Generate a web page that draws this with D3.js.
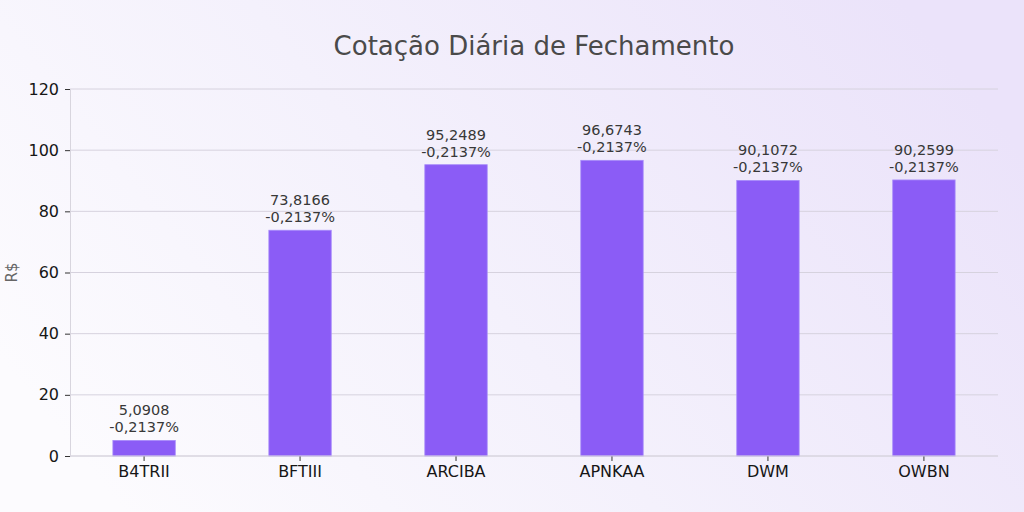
<!DOCTYPE html>
<html>
<head>
<meta charset="utf-8">
<script src="https://cdn.jsdelivr.net/npm/d3@7"></script>
<style>
  html, body { margin: 0; padding: 0; }
  svg { display: block; font-family: "DejaVu Sans", sans-serif; }
</style>
</head>
<body>
<svg id="chart" width="1024" height="512"></svg>
<script>
const tickers = ['B4TRII', 'BFTIII', 'ARCIBA', 'APNKAA', 'DWM', 'OWBN'];
const prices = [5.0908, 73.8166, 95.2489, 96.6743, 90.1072, 90.2599];
const changes = [-0.2137, -0.2137, -0.2137, -0.2137, -0.2137, -0.2137];
const yTicks = [0, 20, 40, 60, 80, 100, 120];

const title = 'Cotação Diária de Fechamento';
const yLabel = 'R$';

const svg = d3.select('#chart');
const width = +svg.attr('width');
const height = +svg.attr('height');
const margin = { left: 70, right: 26, top: 89, bottom: 56 };
const innerWidth = width - margin.left - margin.right;
const innerHeight = height - margin.top - margin.bottom;

// background gradient
const defs = svg.append('defs');
const grad = defs.append('linearGradient')
  .attr('id', 'bg')
  .attr('x1', 0).attr('y1', 0.7)
  .attr('x2', 1).attr('y2', 0.3);
grad.append('stop').attr('offset', '0%').attr('stop-color', '#fcfbfe');
grad.append('stop').attr('offset', '45%').attr('stop-color', '#f4f1fc');
grad.append('stop').attr('offset', '100%').attr('stop-color', '#ebe3fa');
svg.append('rect')
  .attr('width', width).attr('height', height)
  .attr('fill', 'url(#bg)');

// brazilian number format, plain hyphen for minus
const fmt = d3.formatLocale({ decimal: ',', thousands: '.', grouping: [3], currency: ['R$', ''], minus: '-' });
const numFmt = fmt.format('.4f');

const xScale = d3.scaleBand()
  .domain(tickers)
  .range([0, innerWidth])
  .paddingInner(0.6)
  .paddingOuter(0.275);

const yScale = d3.scaleLinear()
  .domain([0, 120])
  .range([innerHeight, 0]);

const g = svg.append('g')
  .attr('transform', `translate(${margin.left},${margin.top})`);

// grid
g.append('g')
  .selectAll('line').data(yTicks)
  .enter().append('line')
  .attr('x1', 0).attr('x2', innerWidth)
  .attr('y1', d => yScale(d)).attr('y2', d => yScale(d))
  .attr('stroke', '#d6d2de')
  .attr('stroke-width', 1);

// bars
g.selectAll('rect.bar').data(prices)
  .enter().append('rect')
  .attr('class', 'bar')
  .attr('x', (d, i) => xScale(tickers[i]))
  .attr('y', d => yScale(d))
  .attr('width', xScale.bandwidth())
  .attr('height', d => innerHeight - yScale(d))
  .attr('fill', '#8b5cf6')
  .attr('stroke', '#a78bfa')
  .attr('stroke-width', 0.8);

// bar labels (price above, change below)
const cx = i => xScale(tickers[i]) + xScale.bandwidth() / 2;
g.selectAll('text.val').data(prices)
  .enter().append('text')
  .attr('class', 'val')
  .attr('text-anchor', 'middle')
  .attr('fill', '#383838')
  .style('font-size', '14.5px')
  .attr('x', (d, i) => cx(i))
  .attr('y', d => yScale(d) - 25)
  .text(d => numFmt(d));
g.selectAll('text.chg').data(changes)
  .enter().append('text')
  .attr('class', 'chg')
  .attr('text-anchor', 'middle')
  .attr('fill', '#383838')
  .style('font-size', '14.5px')
  .attr('x', (d, i) => cx(i))
  .attr('y', (d, i) => yScale(prices[i]) - 8)
  .text(d => numFmt(d) + '%');

// axes
const xAxis = d3.axisBottom(xScale).tickSize(5).tickPadding(5);
const yAxis = d3.axisLeft(yScale).tickValues(yTicks).tickSize(5).tickPadding(6);

const xAxisG = g.append('g')
  .attr('transform', `translate(0,${innerHeight})`)
  .call(xAxis);
const yAxisG = g.append('g').call(yAxis);

[xAxisG, yAxisG].forEach(a => {
  a.select('.domain').attr('stroke', '#d8d5de');
  a.selectAll('.tick line').attr('stroke', '#333');
  a.selectAll('.tick text')
    .attr('fill', '#161616')
    .style('font-size', '16px')
    .style('font-family', '"DejaVu Sans", sans-serif');
});
xAxisG.select('.domain').remove();
xAxisG.append('line')
  .attr('x1', 0).attr('x2', innerWidth)
  .attr('stroke', '#d8d5de');

// y label
svg.append('text')
  .attr('transform', `translate(17,${margin.top + innerHeight / 2}) rotate(-90)`)
  .attr('text-anchor', 'middle')
  .attr('fill', '#666')
  .style('font-size', '15px')
  .text(yLabel);

// title
svg.append('text')
  .attr('x', margin.left + innerWidth / 2)
  .attr('y', 55)
  .attr('text-anchor', 'middle')
  .attr('fill', '#4a4a4a')
  .style('font-size', '26px')
  .text(title);
</script>
</body>
</html>
